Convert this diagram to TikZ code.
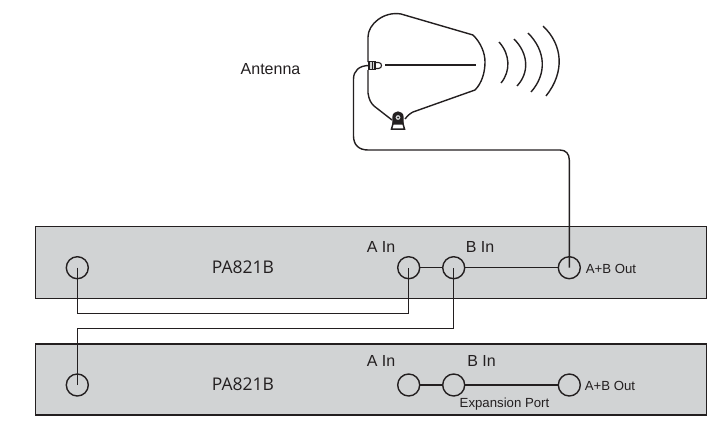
\documentclass[tikz,border=0pt]{standalone}
\usepackage{fontspec}
\setmainfont{Liberation Sans}
\newfontfamily\humanist{Open Sans}
\definecolor{panel}{RGB}{209,211,212}
\definecolor{ink}{RGB}{35,31,32}
\tikzset{
  x=1pt,y=-1pt,
  panelbox/.style={draw=ink,line width=1.4pt,fill=panel,inner sep=0pt},
  port/.style={circle,draw=ink,line width=1.4pt,minimum size=22pt,inner sep=0pt},
  wire/.style={draw=ink,line width=1.4pt},
  ant/.style={draw=ink,line width=1.4pt},
  lbl/.style={text=ink,inner sep=0pt,font=\fontsize{16}{18}\selectfont},
  small/.style={text=ink,inner sep=0pt,font=\fontsize{13.2}{15}\selectfont},
  model/.style={text=ink,inner sep=0pt,font=\humanist\fontsize{17.5}{20}\selectfont}
}
\begin{document}
\begin{tikzpicture}
\useasboundingbox (0,0) rectangle (722,426);
\node[panelbox,minimum width=671pt,minimum height=71.5pt] (top) at (371.2,262.5) {};
\node[panelbox,minimum width=671pt,minimum height=71pt] (bot) at (371.2,379.5) {};
\node[port] (p1) at (77.3,267.7) {};
\node[port] (a1) at (408.7,267.7) {};
\node[port] (b1) at (453.7,267.7) {};
\node[port] (o1) at (569.3,267.7) {};
\node[port] (p2) at (77.3,385) {};
\node[port] (a2) at (408.7,385) {};
\node[port] (b2) at (453.7,385) {};
\node[port] (o2) at (569.3,385) {};
\node[model] (m1) at (243,267.7) {PA821B};
\node[model] (m2) at (243,384) {PA821B};
\node[lbl] (la1) at (381,246.7) {A In};
\node[lbl] (lb1) at (480,246.7) {B In};
\node[lbl] (la2) at (381,360.7) {A In};
\node[lbl] (lb2) at (481.5,360.7) {B In};
\node[small] (lo1) at (611,268.7) {A+B Out};
\node[small] (lo2) at (610,385.7) {A+B Out};
\node[small] (ep) at (504.5,404.3) {Expansion Port};
\node[lbl] (la) at (270.5,69) {Antenna};
\draw[wire] (a1) -- (b1);
\draw[wire] (b1) -- (o1);
\draw[wire] (a2) -- (b2);
\draw[wire] (b2) -- (o2);
\coordinate (j1) at (77.3,313.3);
\coordinate (j2) at (408.7,313.3);
\coordinate (j3) at (77.3,328.7);
\coordinate (j4) at (453.7,328.7);
\draw[wire] (p1.center) -- (j1) -- (j2) -- (a1.center);
\draw[wire] (p2.center) -- (j3) -- (j4) -- (b1.center);
% antenna outline
\draw[ant] (368,62) -- (368,37) .. controls (368,24) and (384,11) .. (401,14) -- (473,35)
  .. controls (481,43) and (485,53) .. (485,62) .. controls (485,72) and (482,83) .. (475,90)
  -- (413,112) .. controls (411,113) and (408,115) .. (405,119);
\draw[ant] (368,70) -- (368,93) .. controls (369,100) and (371,103) .. (374,106) -- (392,120);
\draw[line width=1.9pt,draw=ink] (385,65.3) -- (476,65.3);
% mount
\draw[ant,fill=white,line width=1.5pt] (393.5,122) -- (391.5,129) -- (404.5,129) -- (402.5,122) -- cycle;
\fill[ink] (392.3,124.5) -- (392.3,117.5) .. controls (392.3,113.5) and (395,111.3) .. (398,111.3) .. controls (401,111.3) and (403.7,113.5) .. (403.7,117.5) -- (403.7,124.5) -- cycle;
\fill[panel] (398,117.5) circle[radius=2.4pt];
\fill[ink] (398,117.5) circle[radius=1pt];
% connector
\draw[ink,line width=1.1pt,fill=white] (375,62.5) -- (378.5,62.5) .. controls (380.5,62.5) and (381.5,64) .. (381.5,65.5) .. controls (381.5,67) and (380.5,68.5) .. (378.5,68.5) -- (375,68.5);
\draw[ink,fill=panel,line width=1.2pt] (369,61.5) rectangle (375,69.5);
\draw[ink,line width=1pt] (372,61.5) -- (372,69.5);
% waves
\draw[ant] (499,42) .. controls (510,54) and (511,71) .. (501,83);
\draw[ant] (514,39) .. controls (528,53) and (530,72) .. (517,86);
\draw[ant] (528,33) .. controls (546,51) and (547,74) .. (531,92);
\draw[ant] (543,26) .. controls (563,45) and (565,72) .. (546,96);
% cable
\coordinate (c0) at (369,65.5);
\draw[wire] (o1.center) -- (569.3,160) .. controls (569.3,154) and (566,150) .. (560,150)
  -- (368,150) .. controls (359,150) and (353.5,145) .. (353.5,136)
  -- (353.5,79) .. controls (353.5,71) and (359,65.5) .. (c0);
\end{tikzpicture}
\end{document}
